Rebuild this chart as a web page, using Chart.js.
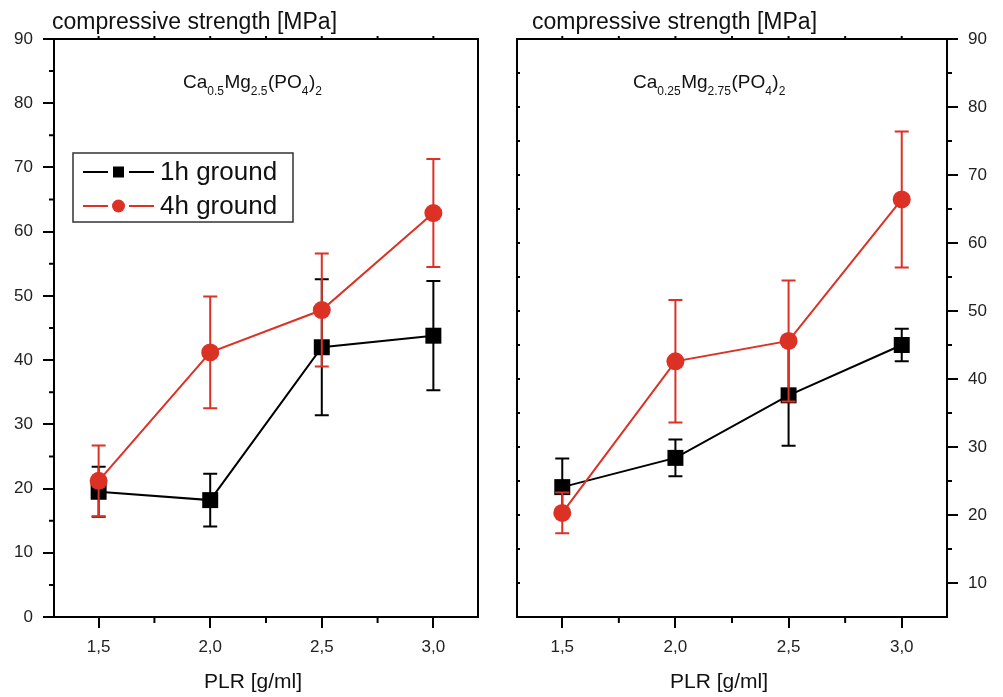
<!DOCTYPE html>
<html>
<head>
<meta charset="utf-8">
<script src="https://cdn.jsdelivr.net/npm/chart.js@4.4.0/dist/chart.umd.min.js"></script>
<style>
  body { margin: 0; background: #fff; }
  #wrap { position: relative; width: 1003px; height: 697px; }
  canvas { position: absolute; top: 0; }
</style>
</head>
<body>
<div id="wrap">
  <canvas id="leftChart" width="500" height="697" style="left:0"></canvas>
  <canvas id="rightChart" width="503" height="697" style="left:500px"></canvas>
</div>
<script>
// data
const plr = [1.5, 2.0, 2.5, 3.0];
const xTicks = [1.5, 2.0, 2.5, 3.0];
const xMinor = [1.75, 2.25, 2.75];

const leftYTicks = [0, 10, 20, 30, 40, 50, 60, 70, 80, 90];
const leftYMinor = [5, 15, 25, 35, 45, 55, 65, 75, 85];
const rightYTicks = [10, 20, 30, 40, 50, 60, 70, 80, 90];
const rightYMinor = [15, 25, 35, 45, 55, 65, 75, 85];

// Ca0.5Mg2.5(PO4)2
const left1h = [19.5, 18.2, 42.0, 43.8];
const left1hErr = [3.9, 4.1, 10.6, 8.5];
const left4h = [21.2, 41.2, 47.8, 62.9];
const left4hErr = [5.5, 8.7, 8.8, 8.4];

// Ca0.25Mg2.75(PO4)2
const right1h = [24.1, 28.4, 37.6, 45.0];
const right1hErr = [4.2, 2.7, 7.4, 2.4];
const right4h = [20.3, 42.6, 45.6, 66.4];
const right4hErr = [3.0, 9.0, 8.9, 10.0];

const red = '#dc3125';
const fontFam = "'Liberation Sans', Arial, Helvetica, sans-serif";
const textColor = '#222';

function toXY(ys) {
    return plr.map((x, i) => ({ x: x, y: ys[i] }));
}

// red drawn last (on top), like the original
function makeDatasets(h1, h1Err, h4, h4Err) {
    return [{
        label: '4h ground',
        data: toXY(h4),
        errors: h4Err,
        borderColor: red,
        backgroundColor: red,
        pointStyle: 'circle',
        pointRadius: 9,
        borderWidth: 2,
        pointBorderWidth: 0,
        showLine: true
    }, {
        label: '1h ground',
        data: toXY(h1),
        errors: h1Err,
        borderColor: '#000',
        backgroundColor: '#000',
        pointStyle: 'rect',
        pointRadius: 11.3,
        borderWidth: 2,
        pointBorderWidth: 0,
        showLine: true
    }];
}

// error bars, drawn right after their own dataset
const errorBars = {
    id: 'errorBars',
    afterDatasetDraw(chart, args) {
        const ds = chart.data.datasets[args.index];
        const xs = chart.scales.x, ys = chart.scales.y;
        const ctx = chart.ctx;
        ctx.save();
        ctx.strokeStyle = ds.borderColor;
        ctx.lineWidth = 2;
        ctx.beginPath();
        ds.data.forEach((p, i) => {
            const px = xs.getPixelForValue(p.x);
            const top = ys.getPixelForValue(p.y + ds.errors[i]);
            const bot = ys.getPixelForValue(p.y - ds.errors[i]);
            ctx.moveTo(px, top); ctx.lineTo(px, bot);
            ctx.moveTo(px - 7, top); ctx.lineTo(px + 7, top);
            ctx.moveTo(px - 7, bot); ctx.lineTo(px + 7, bot);
        });
        ctx.stroke();
        ctx.restore();
    }
};

function drawFormula(ctx, parts, x, y) {
    let cx = x;
    parts.forEach(p => {
        const sub = p[1];
        ctx.font = (sub ? '12px ' : '19px ') + fontFam;
        ctx.fillText(p[0], cx, sub ? y + 7 : y);
        cx += ctx.measureText(p[0]).width + (sub ? 0.5 : 0);
    });
}

// frame, minor ticks, titles, legend
const decor = {
    id: 'decor',
    afterDraw(chart, args, opts) {
        const ctx = chart.ctx;
        const a = chart.chartArea;
        const xs = chart.scales.x, ys = chart.scales.y;
        ctx.save();
        ctx.strokeStyle = '#000';
        ctx.lineWidth = 2;
        ctx.strokeRect(a.left, a.top, a.right - a.left, a.bottom - a.top);

        ctx.beginPath();
        xMinor.forEach(v => {
            const px = xs.getPixelForValue(v);
            ctx.moveTo(px, a.bottom); ctx.lineTo(px, a.bottom + 6);
        });
        xTicks.concat(xMinor).forEach(v => {
            const px = xs.getPixelForValue(v);
            ctx.moveTo(px, a.top); ctx.lineTo(px, a.top - 3);
        });
        opts.yMinor.forEach(v => {
            const py = ys.getPixelForValue(v);
            if (opts.side === 'left') {
                ctx.moveTo(a.left, py); ctx.lineTo(a.left - 5, py);
            } else {
                ctx.moveTo(a.right, py); ctx.lineTo(a.right + 5, py);
                ctx.moveTo(a.left, py); ctx.lineTo(a.left + 3, py);
            }
        });
        if (opts.side !== 'left') {
            opts.yTicks.forEach(v => {
                const py = ys.getPixelForValue(v);
                ctx.moveTo(a.left, py); ctx.lineTo(a.left + 3, py);
            });
        }
        ctx.stroke();

        ctx.fillStyle = '#111';
        ctx.textBaseline = 'alphabetic';
        ctx.textAlign = 'left';
        ctx.font = '23px ' + fontFam;
        ctx.fillText('compressive strength [MPa]', opts.titleX, 29);

        drawFormula(ctx, opts.formula, opts.formulaX, 88);

        ctx.textAlign = 'center';
        ctx.font = '21px ' + fontFam;
        ctx.fillText('PLR [g/ml]', (a.left + a.right) / 2 - 13, 688);

        if (opts.legend) {
            ctx.strokeStyle = '#333';
            ctx.lineWidth = 1.5;
            ctx.strokeRect(73, 153, 220, 69);
            const items = chart.data.datasets.slice().reverse();
            items.forEach((ds, i) => {
                const cy = 172 + i * 34;
                ctx.strokeStyle = ds.borderColor;
                ctx.fillStyle = ds.backgroundColor;
                ctx.lineWidth = 2;
                ctx.beginPath();
                ctx.moveTo(83, cy); ctx.lineTo(108, cy);
                ctx.moveTo(129, cy); ctx.lineTo(154, cy);
                ctx.stroke();
                if (ds.pointStyle === 'rect') {
                    ctx.fillRect(113, cy - 5.5, 11, 11);
                } else {
                    ctx.beginPath();
                    ctx.arc(118.5, cy, 6.5, 0, Math.PI * 2);
                    ctx.fill();
                }
                ctx.fillStyle = '#111';
                ctx.textAlign = 'left';
                ctx.textBaseline = 'middle';
                ctx.font = '26px ' + fontFam;
                ctx.fillText(ds.label, 160, cy + 1);
            });
        }
        ctx.restore();
    }
};

function makeScales(yMin, yMax, yTickList, side) {
    const tickFont = { family: fontFam, size: 17 };
    return {
        x: {
            type: 'linear',
            min: 1.3,
            max: 3.2,
            afterBuildTicks: s => { s.ticks = xTicks.map(v => ({ value: v })); },
            afterFit: s => { s.height = 80; },
            ticks: {
                callback: v => v.toFixed(1).replace('.', ','),
                color: textColor,
                font: tickFont,
                padding: 9,
                maxRotation: 0,
                autoSkip: false
            },
            grid: { drawOnChartArea: false, tickLength: 11, color: '#000', lineWidth: 2 },
            border: { color: '#000', width: 2 }
        },
        y: {
            type: 'linear',
            position: side,
            min: yMin,
            max: yMax,
            afterBuildTicks: s => { s.ticks = yTickList.map(v => ({ value: v })); },
            afterFit: s => { s.width = side === 'left' ? 54 : 56; },
            ticks: { color: textColor, font: tickFont, padding: 10 },
            grid: { drawOnChartArea: false, tickLength: 11, color: '#000', lineWidth: 2 },
            border: { color: '#000', width: 2 }
        }
    };
}

const leftCtx = document.getElementById('leftChart');
const rightCtx = document.getElementById('rightChart');

new Chart(leftCtx, {
    type: 'scatter',
    data: { datasets: makeDatasets(left1h, left1hErr, left4h, left4hErr) },
    options: {
        responsive: false,
        animation: false,
        layout: { padding: { top: 39, right: 22, left: 0, bottom: 0 } },
        scales: makeScales(0, 90, leftYTicks, 'left'),
        plugins: {
            legend: { display: false },
            tooltip: { enabled: false },
            decor: {
                side: 'left',
                yTicks: leftYTicks,
                yMinor: leftYMinor,
                titleX: 52,
                formulaX: 183,
                formula: [['Ca', 0], ['0.5', 1], ['Mg', 0], ['2.5', 1], ['(PO', 0], ['4', 1], [')', 0], ['2', 1]],
                legend: true
            }
        }
    },
    plugins: [errorBars, decor]
});

new Chart(rightCtx, {
    type: 'scatter',
    data: { datasets: makeDatasets(right1h, right1hErr, right4h, right4hErr) },
    options: {
        responsive: false,
        animation: false,
        layout: { padding: { top: 39, right: 0, left: 17, bottom: 0 } },
        scales: makeScales(5, 90, rightYTicks, 'right'),
        plugins: {
            legend: { display: false },
            tooltip: { enabled: false },
            decor: {
                side: 'right',
                yTicks: rightYTicks,
                yMinor: rightYMinor,
                titleX: 32,
                formulaX: 133,
                formula: [['Ca', 0], ['0.25', 1], ['Mg', 0], ['2.75', 1], ['(PO', 0], ['4', 1], [')', 0], ['2', 1]],
                legend: false
            }
        }
    },
    plugins: [errorBars, decor]
});
</script>
</body>
</html>
